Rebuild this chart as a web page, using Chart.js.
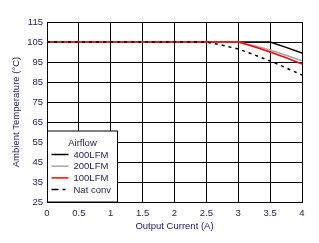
<!DOCTYPE html>
<html>
<head>
<meta charset="utf-8">
<script src="https://cdn.jsdelivr.net/npm/chart.js@4"></script>
<style>
  html, body { margin: 0; padding: 0; background: #fff; }
  #wrap { width: 319px; height: 243px; }
</style>
</head>
<body>
<div id="wrap"><canvas id="derating"></canvas></div>
<script>
// output current (A)
const currentA = [0, 0.25, 0.5, 0.75, 1, 1.25, 1.5, 1.75, 2, 2.25, 2.5, 2.75, 3, 3.25, 3.5, 3.75, 4];
// ambient temperature (°C) per airflow
const lfm400 = [105, 105, 105, 105, 105, 105, 105, 105, 105, 105, 105, 105, 105, 105, 105, 102.3, 99.5];
const lfm200 = [105, 105, 105, 105, 105, 105, 105, 105, 105, 105, 105, 105, 105, 103.1, 101, 98.4, 95.6];
const lfm100 = [105, 105, 105, 105, 105, 105, 105, 105, 105, 105, 105, 105, 105, 102.6, 100, 97.1, 94];
const natConv = [105, 105, 105, 105, 105, 105, 105, 105, 105, 105, 105, 103.4, 101.5, 98.6, 95.5, 92.1, 88.5];
const seriesNames = ['400LFM', '200LFM', '100LFM', 'Nat conv'];
const xTicks = [0, 0.5, 1, 1.5, 2, 2.5, 3, 3.5, 4];
const yTicks = [25, 35, 45, 55, 65, 75, 85, 95, 105, 115];

const txt = '#22245e';
const font = { family: 'Liberation Sans, Arial, sans-serif', size: 9.5 };

function pts(arr) {
    return arr.map((v, i) => ({ x: currentA[i], y: v }));
}

// boxed legend sitting inside the plot, lower left
const boxLegend = {
    id: 'boxLegend',
    afterDraw(chart) {
        const ctx = chart.ctx;
        const a = chart.chartArea;
        const l = a.left + 0.5, b = a.bottom, t = b - 71, r = l + 70;
        ctx.save();
        ctx.fillStyle = '#fff';
        ctx.fillRect(l, t, r - l, b - t);
        ctx.strokeStyle = '#000';
        ctx.lineWidth = 1;
        ctx.strokeRect(l, t, r - l, b - t);
        ctx.font = font.size + 'px ' + font.family;
        ctx.fillStyle = txt;
        ctx.textBaseline = 'middle';
        ctx.textAlign = 'center';
        ctx.fillText('Airflow', l + 35, t + 12);
        ctx.textAlign = 'left';
        // legend order follows seriesNames, datasets are drawn in reverse
        seriesNames.forEach((name, i) => {
            const ds = chart.data.datasets.find(d => d.label === name);
            const y = t + 23.5 + i * 11.7;
            ctx.beginPath();
            ctx.strokeStyle = ds.borderColor;
            ctx.lineWidth = ds.borderWidth;
            ctx.setLineDash(ds.borderDash ? [7, 4, 3, 4] : []);
            ctx.moveTo(l + 4, y);
            ctx.lineTo(l + 21, y);
            ctx.stroke();
            ctx.setLineDash([]);
            ctx.fillStyle = txt;
            ctx.fillText(name, l + 26, y + 0.5);
        });
        ctx.restore();
    }
};

new Chart(document.getElementById('derating'), {
    type: 'line',
    data: {
        datasets: [
            { label: 'Nat conv', data: pts(natConv), borderColor: '#000', borderWidth: 1.5, borderDash: [3, 4] },
            { label: '100LFM', data: pts(lfm100), borderColor: '#ff0000', borderWidth: 1.5 },
            { label: '200LFM', data: pts(lfm200), borderColor: '#a6a6a6', borderWidth: 1.5 },
            { label: '400LFM', data: pts(lfm400), borderColor: '#000', borderWidth: 1.5 }
        ]
    },
    options: {
        responsive: true,
        maintainAspectRatio: false,
        animation: false,
        layout: { padding: { top: 22, right: 17, left: 0, bottom: 0 } },
        elements: { point: { radius: 0 }, line: { tension: 0 } },
        plugins: { legend: { display: false }, tooltip: { enabled: false } },
        scales: {
            x: {
                type: 'linear',
                min: 0, max: 4,
                afterBuildTicks: s => { s.ticks = xTicks.map(v => ({ value: v })); },
                afterFit: s => { s.height = 41; },
                grid: { color: '#000', lineWidth: 1, drawTicks: false },
                border: { color: '#000' },
                ticks: { color: txt, font: font, padding: 6, maxRotation: 0, callback: v => String(v) },
                title: { display: true, text: 'Output Current (A)', color: txt, font: font, padding: { top: 0, bottom: 11 } }
            },
            y: {
                min: 25, max: 115,
                afterBuildTicks: s => { s.ticks = yTicks.map(v => ({ value: v })); },
                afterFit: s => { s.width = 47; },
                grid: { color: '#000', lineWidth: 1, drawTicks: false },
                border: { color: '#000' },
                ticks: { color: txt, font: font, padding: 4 },
                title: { display: true, text: 'Ambient Temperature (°C)', color: txt, font: font, padding: { top: 11, bottom: 0 } }
            }
        }
    },
    plugins: [boxLegend]
});
</script>
</body>
</html>
